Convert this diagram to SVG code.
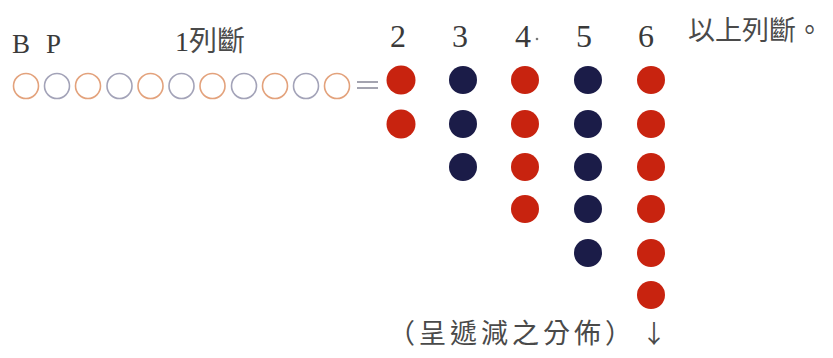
<svg xmlns="http://www.w3.org/2000/svg" width="833" height="358" viewBox="0 0 833 358">
<style>
.ser{font-family:"Liberation Serif","Noto Sans CJK TC",serif;fill:#3a3a3a}
.cjk{font-family:"Noto Sans CJK TC",sans-serif;fill:#4a4a4a}
.o{fill:none;stroke:#e3a27c;stroke-width:1.6}
.g{fill:none;stroke:#a3a3b8;stroke-width:1.6}
.r{fill:#c8230f}
.b{fill:#1b1c48}
</style>
<rect width="833" height="358" fill="#ffffff"/>
<g id="labels">
<text class="ser" x="12" y="53" font-size="27">B</text>
<text class="ser" x="46" y="53" font-size="27">P</text>
<text x="175" y="51" font-size="28"><tspan class="ser">1</tspan><tspan class="cjk" font-size="28">列斷</tspan></text>
<g class="ser" font-size="32" text-anchor="middle">
<text x="398" y="47">2</text>
<text x="460" y="47">3</text>
<text x="523" y="47">4</text>
<text x="584" y="47">5</text>
<text x="646" y="47">6</text>
</g>
<circle cx="537" cy="39" r="1.3" fill="#777"/>
<text class="cjk" x="688" y="40" font-size="27">以上列斷。</text>
</g>
<g id="chain">
<circle class="o" cx="26" cy="86" r="12.5"/>
<circle class="g" cx="57" cy="86" r="12.5"/>
<circle class="o" cx="88" cy="86" r="12.5"/>
<circle class="g" cx="119.5" cy="86" r="12.5"/>
<circle class="o" cx="150.5" cy="86" r="12.5"/>
<circle class="g" cx="181.5" cy="86" r="12.5"/>
<circle class="o" cx="212.5" cy="86" r="12.5"/>
<circle class="g" cx="244" cy="86" r="12.5"/>
<circle class="o" cx="275" cy="86" r="12.5"/>
<circle class="g" cx="306" cy="86" r="12.5"/>
<circle class="o" cx="337" cy="86" r="12.5"/>
<g stroke="#9a9aa8" stroke-width="1.8">
<line x1="357" y1="82" x2="378" y2="82"/>
<line x1="357" y1="88" x2="378" y2="88"/>
</g>
</g>
<g id="col2">
<circle class="r" cx="401" cy="80" r="14.5"/>
<circle class="r" cx="401" cy="124" r="14.5"/>
</g>
<g id="col3">
<circle class="b" cx="463" cy="80" r="14"/>
<circle class="b" cx="463" cy="124" r="14"/>
<circle class="b" cx="463" cy="167" r="14"/>
</g>
<g id="col4">
<circle class="r" cx="525" cy="80" r="14"/>
<circle class="r" cx="525" cy="124" r="14"/>
<circle class="r" cx="525" cy="167" r="14"/>
<circle class="r" cx="525" cy="209" r="14"/>
</g>
<g id="col5">
<circle class="b" cx="588" cy="80" r="14"/>
<circle class="b" cx="588" cy="124" r="14"/>
<circle class="b" cx="588" cy="167" r="14"/>
<circle class="b" cx="588" cy="209" r="14"/>
<circle class="b" cx="588" cy="253" r="14"/>
</g>
<g id="col6">
<circle class="r" cx="651" cy="80" r="14"/>
<circle class="r" cx="651" cy="124" r="14"/>
<circle class="r" cx="651" cy="167" r="14"/>
<circle class="r" cx="651" cy="209" r="14"/>
<circle class="r" cx="651" cy="253" r="14"/>
<circle class="r" cx="651" cy="295" r="14"/>
</g>
<g id="caption">
<text class="cjk" x="388" y="343" font-size="27"><tspan letter-spacing="4">（呈遞減之分佈</tspan>）</text>
<text class="cjk" x="654" y="343" font-size="25" text-anchor="middle">↓</text>
</g>
</svg>
